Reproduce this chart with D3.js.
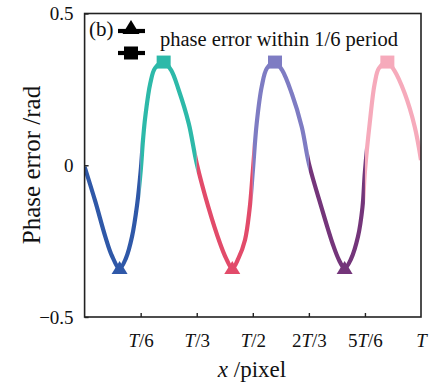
<!DOCTYPE html>
<html>
<head>
<meta charset="utf-8">
<script src="https://cdn.jsdelivr.net/npm/d3@7"></script>
<style>
  html, body { margin: 0; padding: 0; background: #fff; }
  svg { display: block; font-family: "Liberation Serif", "Times New Roman", serif; }
  svg text { font-family: "Liberation Serif", "Times New Roman", serif !important; }
</style>
</head>
<body>
<svg id="chart" width="432" height="383"></svg>
<script>
// Position along the fringe, as a fraction of the period T
const xFrac = [
  0.000, 0.032, 0.0615, 0.0815, 0.104, 0.123, 0.141, 0.156, 0.1667,
  0.1736, 0.1804, 0.1953, 0.2093, 0.235, 0.2568, 0.2797, 0.3095, 0.3333,
  0.3677, 0.4025, 0.4203, 0.439, 0.4575, 0.4768, 0.4902, 0.5,
  0.5116, 0.5265, 0.5422, 0.566, 0.5868, 0.6156, 0.6454, 0.6667,
  0.7036, 0.7384, 0.7562, 0.773, 0.7919, 0.8127, 0.8261, 0.8333,
  0.8475, 0.8624, 0.8751, 0.900, 0.9197, 0.9515, 0.9813, 1.000
];
// Phase error (rad) at each position
const phaseErr = [
  -0.005, -0.120, -0.235, -0.299, -0.340, -0.306, -0.235, -0.131, -0.019,
  0.083, 0.160, 0.270, 0.320, 0.340, 0.314, 0.248, 0.138, 0.006,
  -0.137, -0.257, -0.306, -0.340, -0.306, -0.246, -0.147, -0.021,
  0.138, 0.259, 0.320, 0.340, 0.314, 0.237, 0.127, 0.006,
  -0.137, -0.262, -0.312, -0.340, -0.309, -0.235, -0.138, -0.021,
  0.138, 0.270, 0.320, 0.340, 0.314, 0.237, 0.127, 0.017
];
// Each sixth of the period gets its own colour
const sixthEdges = [0, 1/6, 1/3, 1/2, 2/3, 5/6, 1];
const sixthColors = ["#2F58A8", "#2DB9A9", "#E24B6A", "#7E7CC3", "#74357A", "#F6AABB"];

// Axis ticks
const xTickValues = [1/6, 1/3, 1/2, 2/3, 5/6, 1];
const xTickLabels = ["T/6", "T/3", "T/2", "2T/3", "5T/6", "T"];
const yTickValues = [-0.5, 0, 0.5];
const yTickLabels = ["\u22120.5", "0", "0.5"];

const legendLabel = "phase error within 1/6 period";
const panelTag = "(b)";

const serif = "Liberation Serif";
const svg = d3.select("#chart");
const x = d3.scaleLinear().domain([0, 1]).range([84.6, 421]);
const y = d3.scaleLinear().domain([-0.5, 0.5]).range([317, 13.5]);

const pts = xFrac.map((v, i) => [v, phaseErr[i]]);
const line = d3.line().x(d => x(d[0])).y(d => y(d[1])).curve(d3.curveCatmullRom.alpha(0.5));

// Clip regions, one per sixth of the period
const defs = svg.append("defs");
sixthColors.forEach((c, k) => {
  defs.append("clipPath").attr("id", "sixth" + k)
    .append("rect")
    .attr("x", x(sixthEdges[k]))
    .attr("width", x(sixthEdges[k + 1]) - x(sixthEdges[k]))
    .attr("y", 0).attr("height", 383);
});

sixthColors.forEach((c, k) => {
  svg.append("path")
    .datum(pts)
    .attr("d", line)
    .attr("fill", "none")
    .attr("stroke", c)
    .attr("stroke-width", 4.2)
    .attr("clip-path", `url(#sixth${k})`);
});

// Markers: triangles at troughs, squares at crests, in the colour of their sixth
const sixthOf = v => Math.min(5, Math.floor(v * 6));
const triangle = (cx, cy, w, h) =>
  `M${cx},${cy - h / 2}L${cx + w / 2},${cy + h / 2}L${cx - w / 2},${cy + h / 2}Z`;

pts.forEach((p, i) => {
  const prev = pts[i - 1], next = pts[i + 1];
  if (!prev || !next) return;
  const col = sixthColors[sixthOf(p[0])];
  if (p[1] < prev[1] && p[1] < next[1]) {
    svg.append("path")
      .attr("d", triangle(x(p[0]), y(p[1]) - 1, 16, 13))
      .attr("fill", col);
  } else if (p[1] > prev[1] && p[1] > next[1]) {
    svg.append("rect")
      .attr("x", x(p[0]) - 7).attr("y", y(p[1]) - 6.5)
      .attr("width", 14).attr("height", 13)
      .attr("fill", col);
  }
});

// Frame
svg.append("rect")
  .attr("x", x(0)).attr("y", y(0.5))
  .attr("width", x(1) - x(0)).attr("height", y(-0.5) - y(0.5))
  .attr("fill", "none").attr("stroke", "#222").attr("stroke-width", 1.6);

// Bottom axis, ticks pointing inward
const xAxis = svg.append("g")
  .attr("transform", `translate(0,${y(-0.5)})`)
  .call(d3.axisBottom(x).tickValues(xTickValues).tickSizeInner(-4).tickSizeOuter(0).tickPadding(17)
    .tickFormat((d, i) => xTickLabels[i]));
xAxis.attr("font-family", null).attr("font-size", null);
xAxis.select(".domain").remove();
xAxis.selectAll(".tick line").attr("stroke", "#222").attr("stroke-width", 1.4);
xAxis.selectAll(".tick text")
  .attr("fill", "#111")
  .style("font-family", serif)
  .style("font-size", "19px")
  .each(function (d, i) {
    const t = d3.select(this);
    const lab = xTickLabels[i];
    t.text(null);
    const parts = lab.split("T");
    if (parts[0]) t.append("tspan").text(parts[0]);
    t.append("tspan").style("font-style", "italic").text("T");
    if (parts[1]) t.append("tspan").text(parts[1]);
  });
xAxis.selectAll(".tick").filter(d => d === 1).select("line").remove();

// Left axis, ticks pointing inward
const yAxis = svg.append("g")
  .attr("transform", `translate(${x(0)},0)`)
  .call(d3.axisLeft(y).tickValues(yTickValues).tickSizeInner(-4).tickSizeOuter(0).tickPadding(11)
    .tickFormat((d, i) => yTickLabels[i]));
yAxis.attr("font-family", null).attr("font-size", null);
yAxis.select(".domain").remove();
yAxis.selectAll(".tick line").attr("stroke", "#222").attr("stroke-width", 1.4);
yAxis.selectAll(".tick text")
  .attr("fill", "#111")
  .style("font-family", serif)
  .style("font-size", "19px");

// Axis titles
const xTitle = svg.append("text")
  .attr("x", 252).attr("y", 377)
  .attr("text-anchor", "middle")
  .style("font-size", "23px").attr("fill", "#111");
xTitle.append("tspan").style("font-style", "italic").text("x");
xTitle.append("tspan").text(" /pixel");

svg.append("text")
  .attr("transform", "translate(40,165) rotate(-90)")
  .attr("text-anchor", "middle")
  .style("font-size", "25px").attr("fill", "#111")
  .text("Phase error /rad");

// Panel tag and legend
svg.append("text")
  .attr("x", 89).attr("y", 36)
  .style("font-size", "21px").attr("fill", "#111")
  .text(panelTag);

const legend = svg.append("g");
legend.append("line").attr("x1", 118).attr("x2", 145).attr("y1", 31).attr("y2", 31)
  .attr("stroke", "#000").attr("stroke-width", 4.2);
legend.append("path").attr("d", triangle(131, 27, 17, 14)).attr("fill", "#000");
legend.append("line").attr("x1", 118).attr("x2", 145).attr("y1", 53).attr("y2", 53)
  .attr("stroke", "#000").attr("stroke-width", 4.2);
legend.append("rect").attr("x", 124).attr("y", 46.5).attr("width", 14).attr("height", 13).attr("fill", "#000");
legend.append("text")
  .attr("x", 160).attr("y", 46)
  .style("font-size", "20.5px").attr("fill", "#111")
  .text(legendLabel);
</script>
</body>
</html>
